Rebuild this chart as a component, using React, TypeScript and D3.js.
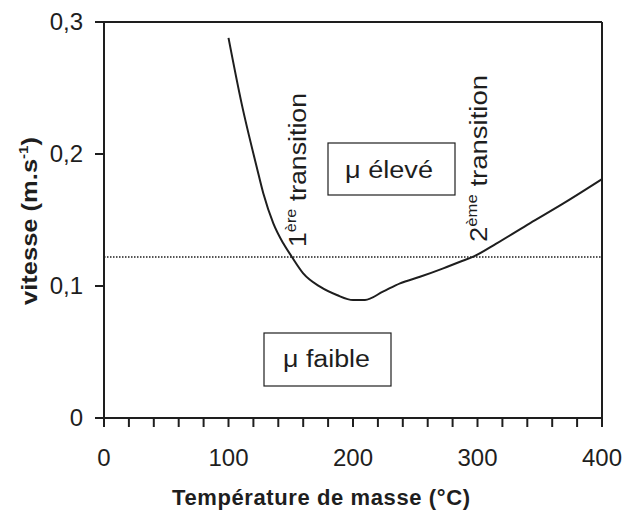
import React from "react";
import * as d3 from "d3";

const temperatures = [100, 110.6, 122.7, 128, 136, 144, 150.8, 160, 173.5, 187, 200, 209.6, 224, 237.8, 253.8, 272.5, 286, 296.6, 315.4, 342, 369, 400];
const speeds = [0.288, 0.238, 0.19, 0.17, 0.1475, 0.1323, 0.1222, 0.1096, 0.0995, 0.0932, 0.0894, 0.0894, 0.0957, 0.102, 0.107, 0.1134, 0.1184, 0.1222, 0.1323, 0.1475, 0.1626, 0.181];
const thresholdSpeed = 0.122;
const xTickLabels = [0, 100, 200, 300, 400];
const xMinorTicks = d3.range(0, 401, 20);
const yTickLabels = [0, 0.1, 0.2, 0.3];

const W = 627, H = 517;
const M = { left: 104, right: 602, top: 22, bottom: 418 };
const FONT = "'Liberation Sans', Arial, sans-serif";
const INK = "#1e1e1e";

export default function App() {
  const x = d3.scaleLinear().domain([0, 400]).range([M.left, M.right]);
  const y = d3.scaleLinear().domain([0, 0.3]).range([M.bottom, M.top]);
  const pts = temperatures.map((t, i) => [t, speeds[i]] as [number, number]);
  const line = d3.line<[number, number]>().x(d => x(d[0])).y(d => y(d[1])).curve(d3.curveMonotoneX);
  const fmt = (v: number) => (v === 0 ? "0" : v.toFixed(1).replace(".", ","));

  return (
    <svg width={W} height={H} style={{ position: "absolute", left: 0, top: 0, background: "#fff" }} fontFamily={FONT}>
      <rect x={0} y={0} width={W} height={H} fill="#fff" />
      {/* frame */}
      <line x1={M.left - 8} x2={M.right} y1={M.top} y2={M.top} stroke={INK} strokeWidth={2} />
      <line x1={M.right} x2={M.right} y1={M.top} y2={M.bottom + 9} stroke={INK} strokeWidth={2} />
      <line x1={M.left} x2={M.left} y1={M.top} y2={M.bottom + 9} stroke={INK} strokeWidth={2} />
      <line x1={M.left} x2={M.right} y1={M.bottom} y2={M.bottom} stroke={INK} strokeWidth={2} />
      {/* x ticks */}
      {xMinorTicks.map(t => (
        <line key={"xt" + t} x1={x(t)} x2={x(t)} y1={M.bottom} y2={M.bottom + 9} stroke={INK} strokeWidth={2} />
      ))}
      {xTickLabels.map(t => (
        <text key={"xl" + t} x={x(t)} y={466} textAnchor="middle" fontSize={24} fill={INK}>{t}</text>
      ))}
      {/* y ticks */}
      {yTickLabels.map(v => (
        <g key={"yt" + v}>
          <line x1={M.left - 9} x2={M.left} y1={y(v)} y2={y(v)} stroke={INK} strokeWidth={2} />
          <text x={83} y={y(v) + 8} textAnchor="end" fontSize={24} fill={INK}>{fmt(v)}</text>
        </g>
      ))}
      {/* threshold dotted line */}
      <line x1={M.left} x2={M.right} y1={y(thresholdSpeed)} y2={y(thresholdSpeed)} stroke={INK} strokeWidth={1.5} strokeDasharray="1.5,1.5" />
      {/* curve */}
      <path d={line(pts) || ""} fill="none" stroke={INK} strokeWidth={2} />
      {/* annotations */}
      <text transform="translate(306,247) rotate(-90)" fontSize={23} fill={INK} textLength={154} lengthAdjust="spacingAndGlyphs">
        1<tspan fontSize={14} dy={-10}>ère</tspan><tspan dy={10}> transition</tspan>
      </text>
      <text transform="translate(487,242) rotate(-90)" fontSize={23} fill={INK} textLength={167} lengthAdjust="spacingAndGlyphs">
        2<tspan fontSize={14} dy={-10}>ème</tspan><tspan dy={10}> transition</tspan>
      </text>
      <rect x={328} y={143} width={127} height={52} fill="#fff" stroke={INK} strokeWidth={1.2} />
      <text x={345} y={178} fontSize={23} fill={INK} textLength={88} lengthAdjust="spacingAndGlyphs">μ élevé</text>
      <rect x={264} y={333} width={127} height={53} fill="#fff" stroke={INK} strokeWidth={1.2} />
      <text x={283} y={367} fontSize={23} fill={INK} textLength={87} lengthAdjust="spacingAndGlyphs">μ faible</text>
      {/* axis titles */}
      <text x={172} y={505} fontSize={22} fontWeight="bold" fill={INK} textLength={298} lengthAdjust="spacing">
        Température de masse (°C)
      </text>
      <text transform="translate(37,305) rotate(-90)" fontSize={22} fontWeight="bold" fill={INK} textLength={168} lengthAdjust="spacingAndGlyphs">
        vitesse (m.s<tspan fontSize={13} dy={-9}>-1</tspan><tspan dy={9}>)</tspan>
      </text>
    </svg>
  );
}
